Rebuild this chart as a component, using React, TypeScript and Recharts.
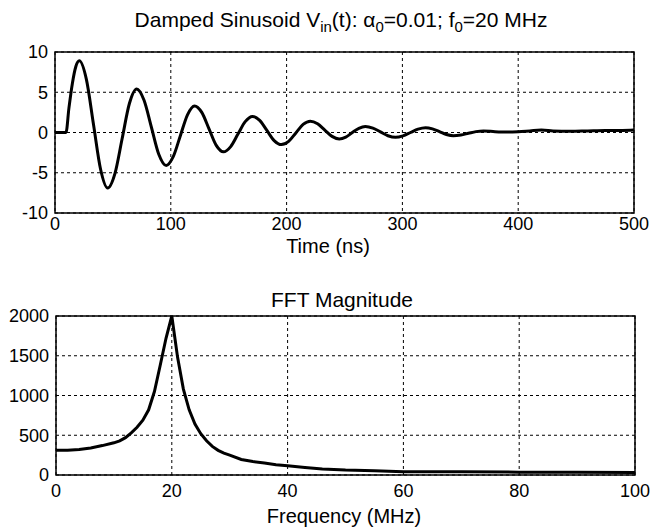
import { LineChart, Line, XAxis, YAxis, CartesianGrid, ReferenceArea } from 'recharts';

// time axis (ns) and damped sinusoid samples
const timeNs = [
  0, 5, 9.5, 12, 15, 18, 21, 27.1, 33.25, 39.4, 45.5, 51.75, 58, 64.25, 70.5, 76.9, 83.25, 89.6, 96,
  102.1, 108.25, 114.4, 120.5, 126.75, 133, 139.25, 145.5, 151.75, 158, 164.25, 170.5, 176.75, 183,
  189.25, 195.5, 201.75, 208, 214.25, 220.5, 226.75, 233, 239.25, 245.5, 251.1, 256.75, 262.4, 268,
  274.5, 281, 287.5, 294, 300.5, 307, 313.5, 320, 326, 332, 338, 344, 350.5, 357, 363.5, 370, 380, 390,
  400, 410, 420, 430, 445, 460, 475, 490, 500,
];
const vin = [
  0, 0, 0, 3.0, 6.1, 8.2, 8.9, 6.6, 1.0, -4.6, -6.9, -5.1, -0.75, 3.6, 5.4, 4.0, 0.65, -2.7, -4.1, -3.0,
  -0.4, 2.2, 3.3, 2.5, 0.45, -1.6, -2.4, -1.75, -0.2, 1.35, 2.0, 1.5, 0.25, -1.0, -1.5, -1.1, -0.05, 1.0,
  1.4, 1.08, 0.3, -0.48, -0.8, -0.57, 0, 0.52, 0.75, 0.55, 0.075, -0.4, -0.6, -0.42, 0, 0.42, 0.6, 0.45,
  0.1, -0.25, -0.4, -0.31, -0.1, 0.11, 0.2, 0.1, 0.05, 0.1, 0.2, 0.3, 0.2, 0.15, 0.2, 0.25, 0.25, 0.3,
];

// FFT magnitude vs frequency (MHz)
const freqMHz = [
  0, 2, 4, 6, 8, 10, 11, 12, 13, 14, 15, 16, 17, 18, 19, 20, 21, 22, 23, 24, 25, 26, 27, 28, 29, 30,
  32, 34, 36, 38, 40, 43, 46, 50, 55, 60, 70, 80, 90, 100,
];
const fftMag = [
  310, 312, 320, 340, 370, 405, 430, 470, 530, 600, 690, 820, 1050, 1380, 1720, 2000, 1480, 1080, 820,
  640, 520, 430, 360, 310, 275, 250, 195, 170, 150, 130, 117, 95, 75, 62, 54, 42, 40, 36, 34, 33,
];

const timeTicks = [0, 100, 200, 300, 400, 500];
const voltTicks = [-10, -5, 0, 5, 10];
const freqTicks = [0, 20, 40, 60, 80, 100];
const magTicks = [0, 500, 1000, 1500, 2000];

const timeData = timeNs.map((t, i) => ({ t, v: vin[i] }));
const fftData = freqMHz.map((f, i) => ({ f, m: fftMag[i] }));

const FONT = '"Liberation Sans", Arial, Helvetica, sans-serif';
const tickStyle = { fill: '#000', fontSize: 18, fontFamily: FONT };

export default function App() {
  return (
    <div style={{ position: 'absolute', left: 0, top: 0, width: 650, height: 530, background: '#fff' }}>
      {/* top: time domain */}
      <div style={{ position: 'absolute', left: 0, top: 0 }}>
        <LineChart width={650} height={260} data={timeData} margin={{ top: 52, right: 16, left: 0, bottom: 17 }}>
          <CartesianGrid stroke="#000" strokeDasharray="3 3" strokeWidth={1} />
          <XAxis
            dataKey="t"
            type="number"
            domain={[0, 500]}
            ticks={timeTicks}
            height={30}
            tickLine={false}
            axisLine={false}
            tickSize={0}
            tickMargin={4}
            tick={tickStyle}
          />
          <YAxis
            type="number"
            domain={[-10, 10]}
            ticks={voltTicks}
            width={55}
            tickLine={false}
            axisLine={false}
            tickSize={0}
            tickMargin={7}
            tick={tickStyle}
          />
          <ReferenceArea x1={0} x2={500} y1={-10} y2={10} fill="#fff" fillOpacity={0} stroke="#000" strokeWidth={1.5} />
          <Line dataKey="v" type="monotone" stroke="#000" strokeWidth={3} dot={false} isAnimationActive={false} />
        </LineChart>
      </div>

      {/* bottom: FFT */}
      <div style={{ position: 'absolute', left: 0, top: 260 }}>
        <LineChart width={650} height={270} data={fftData} margin={{ top: 56, right: 15, left: 0, bottom: 25 }}>
          <CartesianGrid stroke="#000" strokeDasharray="3 3" strokeWidth={1} />
          <XAxis
            dataKey="f"
            type="number"
            domain={[0, 100]}
            ticks={freqTicks}
            height={30}
            tickLine={false}
            axisLine={false}
            tickSize={0}
            tickMargin={9}
            tick={tickStyle}
          />
          <YAxis
            type="number"
            domain={[0, 2000]}
            ticks={magTicks}
            width={56}
            tickLine={false}
            axisLine={false}
            tickSize={0}
            tickMargin={7}
            tick={tickStyle}
          />
          <ReferenceArea x1={0} x2={100} y1={0} y2={2000} fill="#fff" fillOpacity={0} stroke="#000" strokeWidth={1.5} />
          <Line dataKey="m" type="linear" stroke="#000" strokeWidth={3} dot={false} isAnimationActive={false} />
        </LineChart>
      </div>

      {/* titles and axis labels */}
      <svg width={650} height={530} style={{ position: 'absolute', left: 0, top: 0, pointerEvents: 'none' }}>
        <text x={341} y={27} textAnchor="middle" fontSize={21} fontFamily={FONT} fill="#000">
          Damped Sinusoid V
          <tspan dy={5} fontSize={15}>in</tspan>
          <tspan dy={-5}>(t): α</tspan>
          <tspan dy={5} fontSize={15}>0</tspan>
          <tspan dy={-5}>=0.01; f</tspan>
          <tspan dy={5} fontSize={15}>0</tspan>
          <tspan dy={-5}>=20 MHz</tspan>
        </text>
        <text x={328} y={253} textAnchor="middle" fontSize={20} fontFamily={FONT} fill="#000">
          Time (ns)
        </text>
        <text x={342} y={307} textAnchor="middle" fontSize={21} fontFamily={FONT} fill="#000">
          FFT Magnitude
        </text>
        <text x={344} y={523} textAnchor="middle" fontSize={20} fontFamily={FONT} fill="#000">
          Frequency (MHz)
        </text>
      </svg>
    </div>
  );
}
